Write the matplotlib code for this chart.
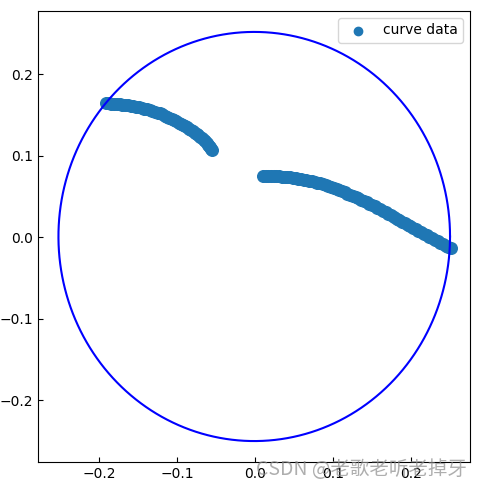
import numpy as np
import matplotlib
matplotlib.use('Agg')
import matplotlib.pyplot as plt

# scattered curve points (two arcs)
arc1_x = [-0.191, -0.1875, -0.184, -0.1805, -0.177, -0.1735, -0.170, -0.1665, -0.163,
          -0.1595, -0.156, -0.1525, -0.149, -0.1455, -0.142, -0.1385, -0.135, -0.1315,
          -0.128, -0.125, -0.122, -0.119, -0.116, -0.113, -0.110, -0.107, -0.104,
          -0.101, -0.098, -0.095, -0.092, -0.0895, -0.087, -0.0845, -0.082, -0.0795,
          -0.077, -0.0748, -0.0725, -0.0703, -0.068, -0.066, -0.064, -0.062, -0.060,
          -0.0587, -0.0575, -0.0562, -0.055]
arc1_y = [0.1644, 0.1642, 0.1640, 0.1637, 0.1634, 0.1631, 0.1627, 0.1623, 0.1619,
          0.1614, 0.1608, 0.1601, 0.1594, 0.1586, 0.1578, 0.1569, 0.1560, 0.1550,
          0.1540, 0.1530, 0.1520, 0.1507, 0.1494, 0.1480, 0.1466, 0.1452, 0.1437,
          0.1423, 0.1408, 0.1393, 0.1378, 0.1364, 0.1350, 0.1334, 0.1318, 0.1301,
          0.1284, 0.1268, 0.1252, 0.1235, 0.1218, 0.1199, 0.1180, 0.1159, 0.1138,
          0.1122, 0.1105, 0.1088, 0.1070]

arc2_x = [0.0106, 0.0138, 0.017, 0.0205, 0.024, 0.0275, 0.031, 0.0345, 0.038, 0.0415,
          0.045, 0.0485, 0.052, 0.0555, 0.059, 0.0625, 0.066, 0.0695, 0.073, 0.0765,
          0.080, 0.0835, 0.087, 0.0905, 0.094, 0.0975, 0.101, 0.1045, 0.108, 0.1115,
          0.115, 0.1185, 0.122, 0.1255, 0.129, 0.1325, 0.136, 0.1395, 0.143, 0.1465,
          0.150, 0.1535, 0.157, 0.1605, 0.164, 0.1675, 0.171, 0.1745, 0.178, 0.1815,
          0.185, 0.1885, 0.192, 0.1955, 0.199, 0.2025, 0.206, 0.2095, 0.213, 0.2165,
          0.220, 0.2235, 0.227, 0.2305, 0.234, 0.2375, 0.241, 0.2445, 0.2475, 0.2509]
arc2_y = [0.0756, 0.07555, 0.0755, 0.07535, 0.0752, 0.0750, 0.0748, 0.0745, 0.0742, 0.07385,
          0.0735, 0.07305, 0.0726, 0.07205, 0.0715, 0.0709, 0.0703, 0.06955, 0.0688, 0.06795,
          0.0671, 0.06615, 0.0652, 0.0641, 0.0630, 0.0618, 0.0606, 0.0593, 0.0580, 0.0566,
          0.0552, 0.0537, 0.0522, 0.05075, 0.0493, 0.04775, 0.0462, 0.0446, 0.0430, 0.04135,
          0.0397, 0.03795, 0.0362, 0.0344, 0.0326, 0.03075, 0.0289, 0.02695, 0.0250, 0.02305,
          0.0211, 0.01925, 0.0174, 0.01555, 0.0137, 0.0119, 0.0101, 0.00825, 0.0064, 0.00455,
          0.0027, 0.00085, -0.0010, -0.00285, -0.0047, -0.0065, -0.0083, -0.0101, -0.0117, -0.0135]

# fitted circle
center = (-0.001, 0.001)
radius = 0.251

ticks = [-0.2, -0.1, 0.0, 0.1, 0.2]

x = np.array(arc1_x + arc2_x)
y = np.array(arc1_y + arc2_y)

fig = plt.figure(figsize=(4.82, 4.90), dpi=100)
ax = fig.add_axes([0.0795, 0.0578, 0.8956, 0.9198])

ax.scatter(x, y, s=70, color='#1f77b4', label='curve data')

theta = np.linspace(0, 2 * np.pi, 400)
ax.plot(center[0] + radius * np.cos(theta), center[1] + radius * np.sin(theta),
        color='blue', linewidth=1.5)

ax.set_xlim(-0.2778, 0.2756)
ax.set_ylim(-0.2753, 0.2777)
ax.set_xticks(ticks)
ax.set_yticks(ticks)
ax.tick_params(direction='in')

leg = ax.legend(loc='upper right')
leg.legend_handles[0].set_sizes([36])

# CSDN watermark over the bottom right corner
fig.text(0.969, 0.041, 'CSDN @老歌老听老掉牙', ha='right', va='center',
         fontsize=14, color='#8c8c8c', alpha=0.7,
         family=['Noto Sans CJK SC', 'DejaVu Sans'])

fig.savefig('out.png', dpi=100)
